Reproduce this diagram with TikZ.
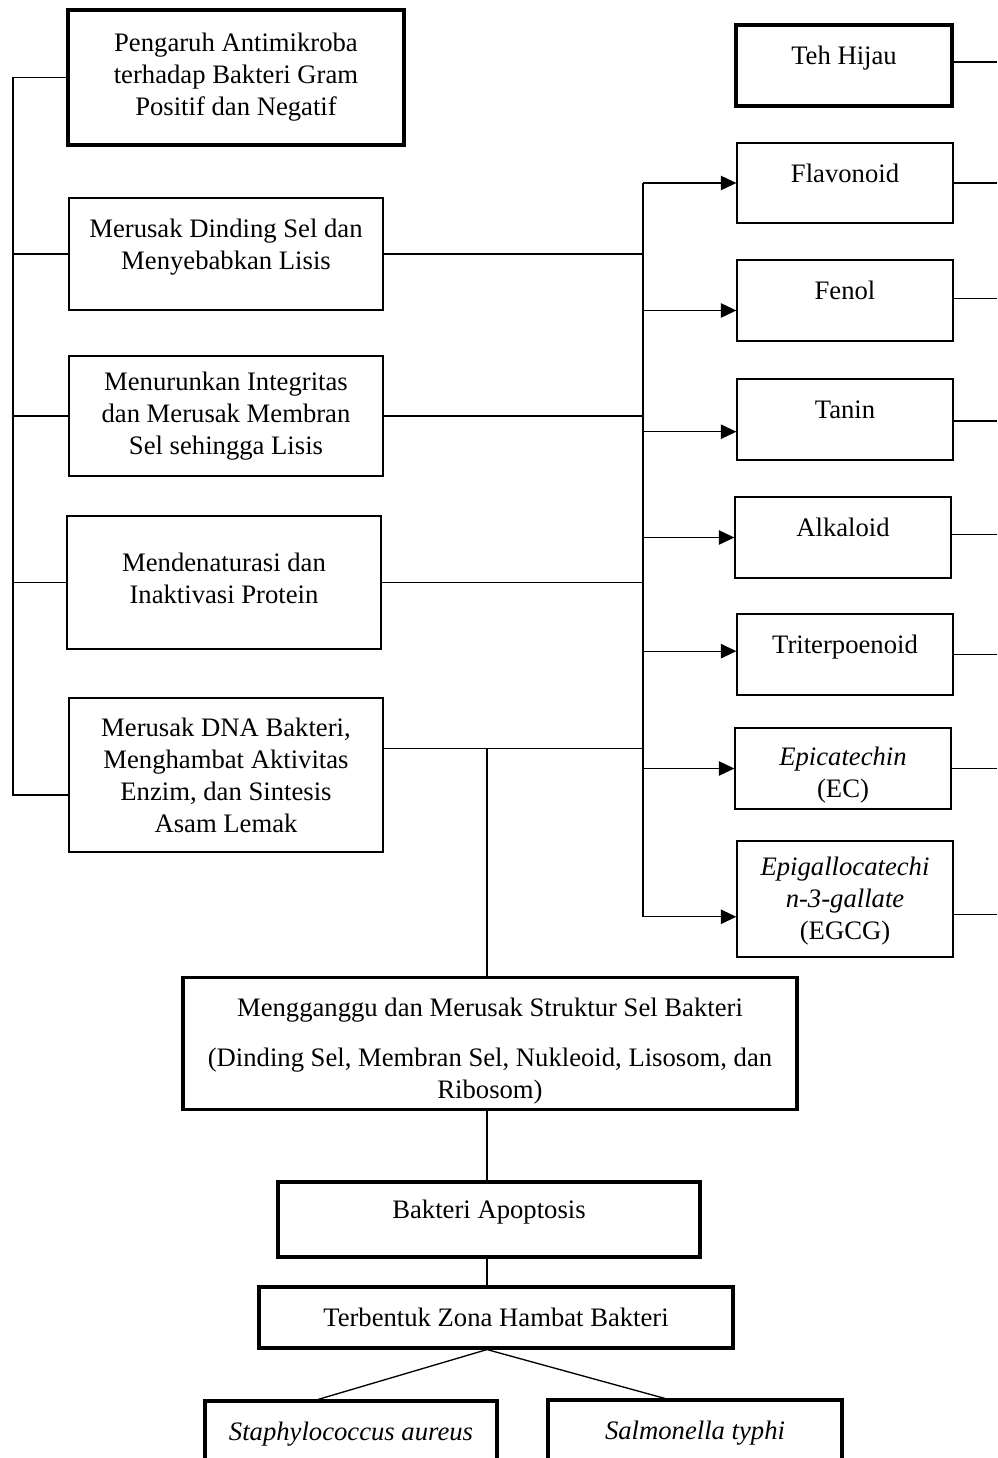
\documentclass[tikz,border=0pt]{standalone}
\usepackage{fontspec}
\setmainfont{Liberation Serif}
\usetikzlibrary{arrows.meta}

\begin{document}
\begin{tikzpicture}[x=0.45pt, y=-0.45pt,
        font=\fontsize{12}{14.4}\selectfont,
        kotak/.style={draw, line width=0.6pt, align=center, inner sep=0pt},
        tebal/.style={kotak, line width=1.4pt},
        geser/.style={text depth=#1},
        naik/.style={geser=9pt},
        garis/.style={line width=0.6pt},
        panah/.style={garis, -{Triangle[length=7pt, width=6.5pt]}}]
            \useasboundingbox (0,0) rectangle (997,1458);
            \clip (0,0) rectangle (997,1458);

            \node[tebal, minimum width=151.2pt, minimum height=60.75pt] (pengaruh) at (236,77.5)
                {Pengaruh Antimikroba\\terhadap Bakteri Gram\\Positif dan Negatif};
            \node[kotak, naik, minimum width=141.3pt, minimum height=50.4pt] (dinding) at (226,254)
                {Merusak Dinding Sel dan\\Menyebabkan Lisis};
            \node[kotak, minimum width=141.3pt, minimum height=54pt] (membran) at (226,416)
                {Menurunkan Integritas\\dan Merusak Membran\\Sel sehingga Lisis};
            \node[kotak, geser=4pt, minimum width=141.3pt, minimum height=59.85pt] (protein) at (224,582.5)
                {Mendenaturasi dan\\Inaktivasi Protein};
            \node[kotak, minimum width=141.3pt, minimum height=69.3pt] (dna) at (226,775)
                {Merusak DNA Bakteri,\\Menghambat Aktivitas\\Enzim, dan Sintesis\\Asam Lemak};

            \node[tebal, naik, minimum width=97.2pt, minimum height=36.45pt] (teh) at (844,65.5) {Teh Hijau};
            \node[kotak, naik, minimum width=97.2pt, minimum height=36pt] (flavonoid) at (845,183) {Flavonoid};
            \node[kotak, naik, minimum width=97.2pt, minimum height=36.45pt] (fenol) at (845,300.5) {Fenol};
            \node[kotak, naik, minimum width=97.2pt, minimum height=36.45pt] (tanin) at (845,419.5) {Tanin};
            \node[kotak, naik, minimum width=97.2pt, minimum height=36.45pt] (alkaloid) at (843,537.5) {Alkaloid};
            \node[kotak, naik, minimum width=97.2pt, minimum height=36.45pt] (triterpoenoid) at (845,654.5) {Triterpoenoid};
            \node[kotak, geser=0pt, minimum width=97.2pt, minimum height=36.45pt] (epicatechin) at (843,768.5)
                {\rule{0pt}{12pt}\textit{Epicatechin}\\(EC)};
            \node[kotak, geser=0.5pt, minimum width=97.2pt, minimum height=52.2pt] (egcg) at (845,899)
                {\textit{Epigallocatechi}\\\textit{n-3-gallate}\\(EGCG)};

            \node[tebal, geser=0pt, minimum width=276.3pt, minimum height=59.4pt] (struktur) at (490,1043.5)
                {\rule{0pt}{12.8pt}Mengganggu dan Merusak Struktur Sel Bakteri\\[8pt](Dinding Sel, Membran Sel, Nukleoid, Lisosom, dan\\Ribosom)};
            \node[tebal, naik, minimum width=189.9pt, minimum height=33.75pt] (apoptosis) at (489,1219.5) {Bakteri Apoptosis};
            \node[tebal, minimum width=213.3pt, minimum height=27.45pt] (zona) at (496,1317.5) {Terbentuk Zona Hambat Bakteri};
            \node[tebal, naik, minimum width=131.4pt, minimum height=36pt] (staph) at (351,1441) {\textit{Staphylococcus aureus}};
            \node[tebal, naik, minimum width=132.3pt, minimum height=36pt] (salmonella) at (695,1440) {\textit{Salmonella typhi}};

            \coordinate (kiri) at (13,0);
            \coordinate (kanan) at (643,0);
            \coordinate (tepi) at (997,0);
            \coordinate (tengah) at (487,0);
            \coordinate (dnakiri) at ([yshift=-9pt]dna.west);
            \coordinate (dnakanan) at ([yshift=12pt]dna.east);
            \coordinate (cabang) at (zona.south -| tengah);

            \draw[garis] (kiri |- pengaruh.west) -- (pengaruh.west);
            \draw[garis] (kiri |- pengaruh.west) -- (kiri |- dnakiri) -- (dnakiri);
            \foreach \n in {dinding, membran, protein}
                \draw[garis] (kiri |- \n.west) -- (\n.west);

            \foreach \n in {dinding, membran, protein}
                \draw[garis] (\n.east) -- (kanan |- \n.east);
            \draw[garis] (dnakanan) -- (kanan |- dnakanan);
            \draw[garis] (kanan |- flavonoid.west) -- ([yshift=-8pt]kanan |- egcg.west);
            \foreach \n/\s in {flavonoid/0, fenol/-4.5, tanin/-5.5, alkaloid/0, triterpoenoid/1.5, epicatechin/0, egcg/-8}
                \draw[panah] ([yshift=\s pt]kanan |- \n.west) -- ([yshift=\s pt]\n.west);
            \foreach \n/\s in {teh/1.5, flavonoid/0, fenol/1, tanin/-0.7, alkaloid/1.5, triterpoenoid/0, epicatechin/0, egcg/-7}
                \draw[garis] ([yshift=\s pt]\n.east) -- ([yshift=\s pt]tepi |- \n.east);

            \draw[garis] (tengah |- struktur.north) -- (tengah |- dnakanan);
            \draw[garis] (tengah |- struktur.south) -- (tengah |- apoptosis.north);
            \draw[garis] (tengah |- apoptosis.south) -- (tengah |- zona.north);
            \draw[garis] ([xshift=-14.85pt]staph.north) -- (cabang) -- ([xshift=-13.5pt]salmonella.north);
        \end{tikzpicture}
\end{document}
